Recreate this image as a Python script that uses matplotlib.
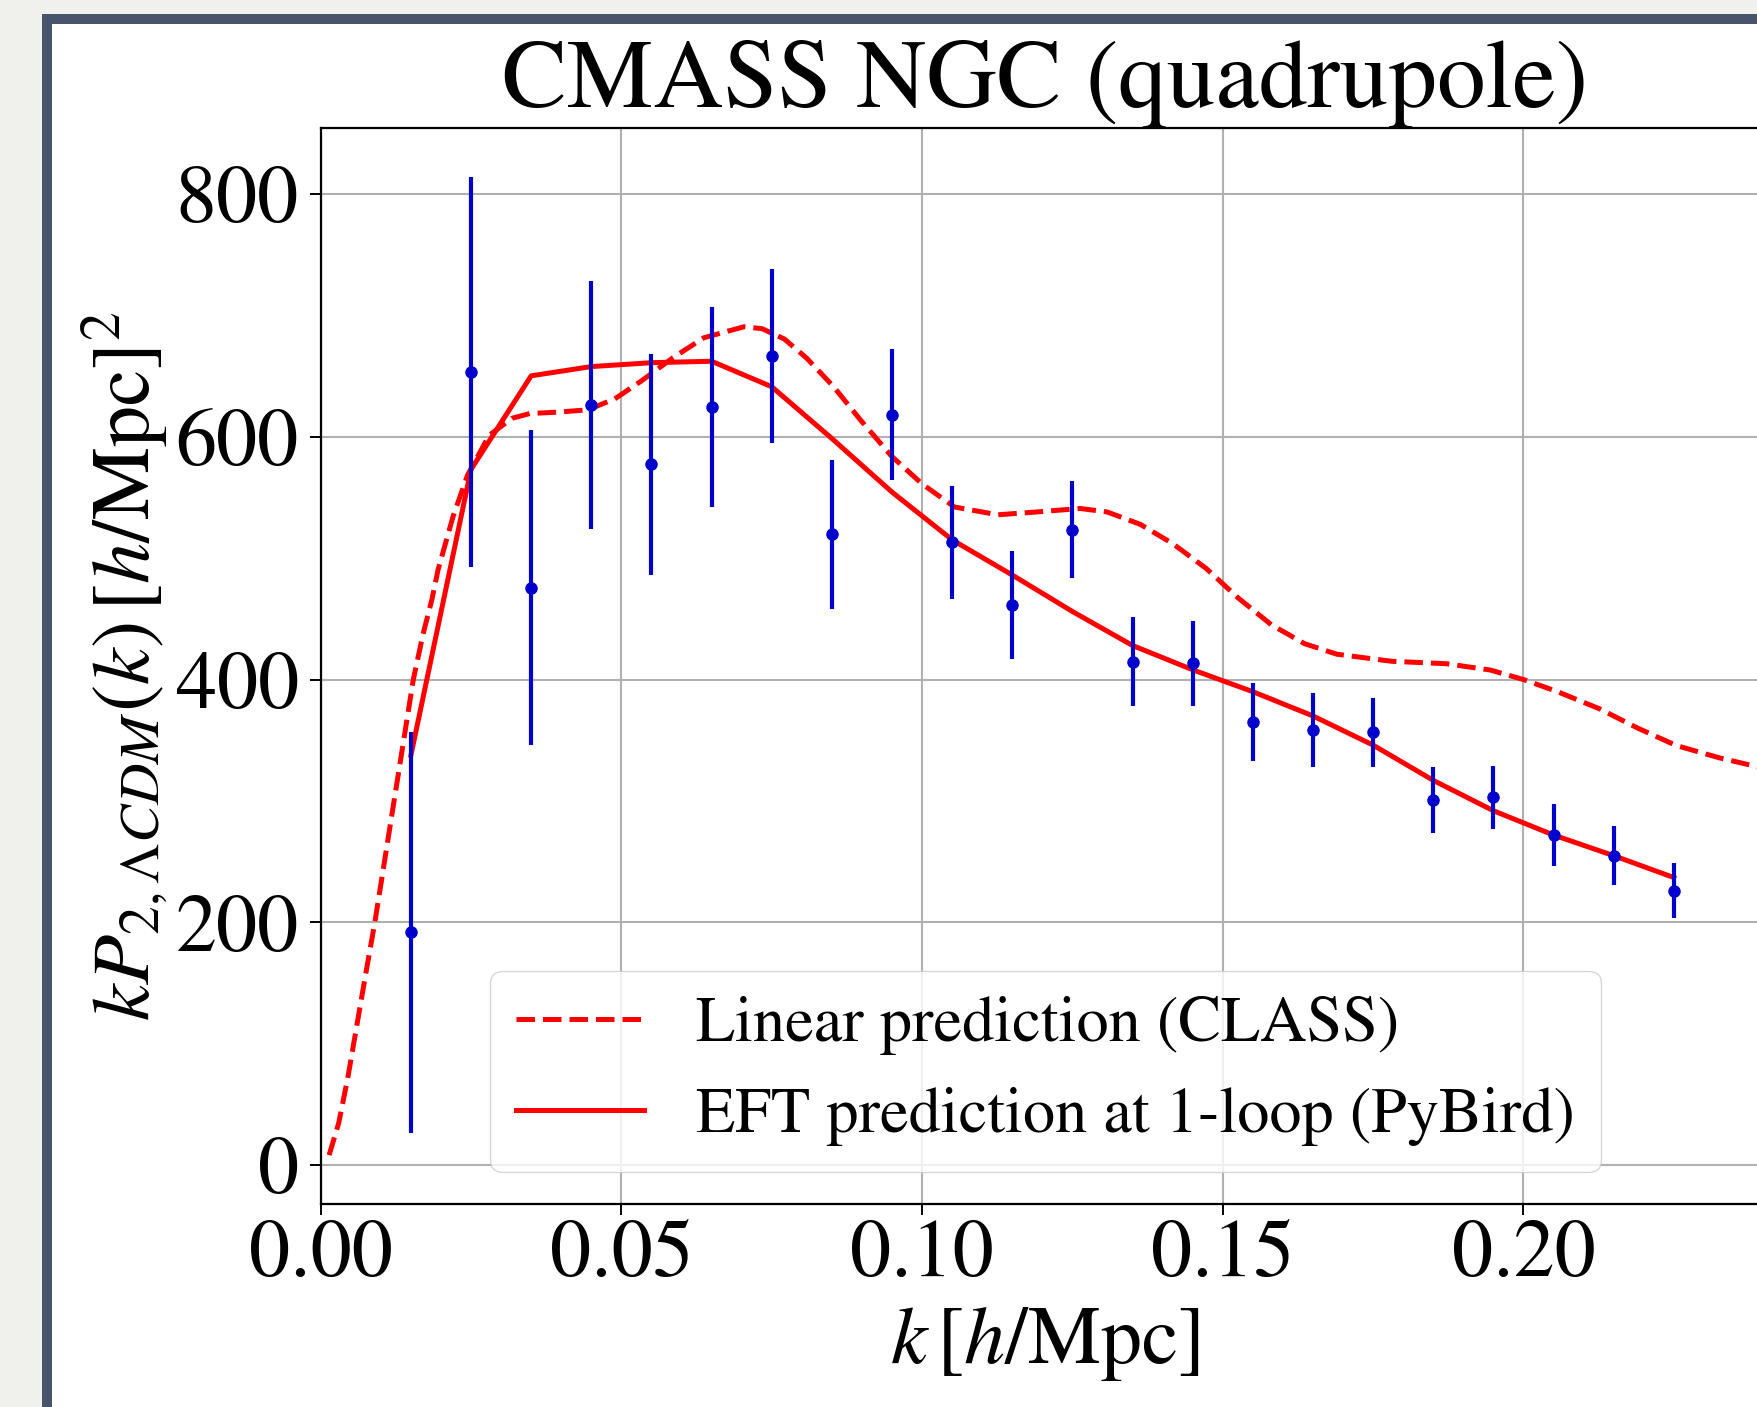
import matplotlib
matplotlib.use('Agg')
import matplotlib.pyplot as plt
from matplotlib.patches import Rectangle

plt.rcParams['font.family'] = 'STIXGeneral'
plt.rcParams['mathtext.fontset'] = 'stix'

# BOSS CMASS NGC quadrupole, k P_2(k)
k_data = [0.015, 0.025, 0.035, 0.045, 0.055, 0.065, 0.075, 0.085, 0.095, 0.105, 0.115,
          0.125, 0.135, 0.145, 0.155, 0.165, 0.175, 0.185, 0.195, 0.205, 0.215, 0.225]
kp2_data = [192, 653, 475.6, 626, 577, 624.3, 666, 519.4, 617.9, 513, 461.3,
            523.4, 414.7, 413.3, 365, 358.7, 356.6, 300.9, 302.9, 272, 254.9, 226.3]
kp2_err = [164.9, 160.5, 129.9, 102.4, 91, 82, 71.7, 61.7, 53.9, 46.5, 44.5,
           39.9, 36.7, 35.2, 32, 30.4, 28.4, 26.9, 26, 25.2, 24.2, 22.5]

# EFT 1-loop (PyBird) at the data k
kp2_eft = [337.6, 573, 650, 657.6, 660.8, 662, 641, 598.4, 554.3, 515, 486,
           456, 428, 408, 390, 370, 346, 317, 292, 272, 255, 237]

# linear CLASS prediction
k_lin = [0.0014, 0.003, 0.0045, 0.006, 0.0075, 0.009, 0.0106, 0.0122, 0.0138, 0.0154,
         0.017, 0.0185, 0.0195, 0.022, 0.0244, 0.028, 0.0318, 0.0348, 0.0392, 0.0444,
         0.0489, 0.0533, 0.0585, 0.0637, 0.0704, 0.0734, 0.0771, 0.0808, 0.0853, 0.0897,
         0.0949, 0.100, 0.1054, 0.1126, 0.119, 0.1263, 0.1308, 0.1363, 0.1417, 0.1472,
         0.1526, 0.1581, 0.1636, 0.169, 0.1781, 0.1872, 0.1945, 0.200, 0.2054, 0.2126,
         0.219, 0.2254, 0.2326, 0.2388, 0.245]
kp2_lin = [8.5, 35, 72, 115, 158, 200, 250, 300, 350, 400,
           437, 466, 490, 534, 568, 601, 615, 619, 620, 622,
           631, 645.7, 664.6, 681.3, 690.4, 688.8, 680.3, 664.6, 641, 614,
           584, 561, 542, 535.6, 537.9, 540.8, 537.9, 527.7, 511.8, 491.6,
           467, 445, 429.5, 420.8, 415, 413, 407.8, 400, 390.5, 376,
           360, 345.7, 335.5, 328.3, 322]

W, H = 1757, 1407
fig = plt.figure(figsize=(W / 100, H / 100), dpi=100, facecolor='#f0f1ec')

# screenshot frame: dark border, white page
fig.add_artist(Rectangle((42 / W, 0), 1, 1 - 14 / H, transform=fig.transFigure,
                         facecolor='#47546b', edgecolor='none', zorder=-2))
fig.add_artist(Rectangle((52 / W, 0), 1, 1 - 24 / H, transform=fig.transFigure,
                         facecolor='white', edgecolor='none', zorder=-1))

ax = fig.add_axes([320.7 / W, (H - 1204.3) / H, (1770 - 320.7) / W, (1204.3 - 128) / H])

ax.plot(k_lin, kp2_lin, '--', color='red', lw=3.6, label='Linear prediction (CLASS)')
ax.plot(k_data, kp2_eft, '-', color='red', lw=3.6, label='EFT prediction at 1-loop (PyBird)')
ax.errorbar(k_data, kp2_data, yerr=kp2_err, fmt='o', color='mediumblue', ms=8,
            elinewidth=3, capsize=0)

ax.set_xlim(0, 0.241)
ax.set_ylim(-32, 854)
ax.set_xticks([0.00, 0.05, 0.10, 0.15, 0.20])
ax.set_yticks([0, 200, 400, 600, 800])
ax.grid(True, color='#b0b0b0', lw=1.5)
ax.set_axisbelow(True)

for s in ax.spines.values():
    s.set_linewidth(1.6)
ax.tick_params(labelsize=59, length=7.7, width=1.4)
ax.tick_params(axis='y', pad=8)

ax.set_title('CMASS NGC (quadrupole)', fontsize=70, pad=12)
ax.set_xlabel(r'$k\,\left[h/\mathrm{Mpc}\right]$', fontsize=59, labelpad=8)
ax.set_ylabel(r'$kP_{2,\Lambda CDM}(k)\,\left[h/\mathrm{Mpc}\right]^2$', fontsize=59)
ax.legend(loc='lower center', fontsize=46.3)

fig.savefig('out.png', dpi=100, facecolor=fig.get_facecolor())
